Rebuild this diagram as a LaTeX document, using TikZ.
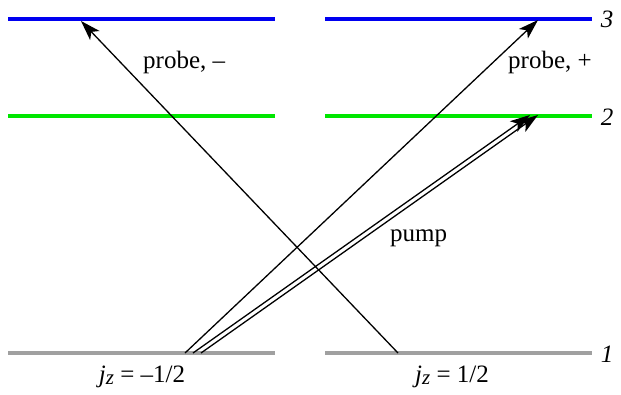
\documentclass[tikz,border=0pt]{standalone}
\usepackage{fontspec}
\setmainfont{Liberation Serif}
\usetikzlibrary{arrows.meta}
\definecolor{lvblue}{RGB}{0,0,240}
\definecolor{lvgreen}{RGB}{0,230,0}
\definecolor{lvgray}{RGB}{160,160,160}
\newcommand{\jzsub}{\textit{j}\raisebox{-0.25ex}{\fontsize{21}{21}\selectfont\textit{z}}}
\tikzset{
  level/.style={line width=3.5pt},
  trans/.style={line width=1.3pt,-{Stealth[length=20pt,width=13pt,inset=5pt]}},
  lab/.style={font=\fontsize{25}{29}\selectfont, inner sep=0pt},
}
\begin{document}
\begin{tikzpicture}[x=1pt,y=-1pt]
\useasboundingbox (0,0) rectangle (621,394);
% levels
\coordinate (L3a) at (8,19); \coordinate (L3b) at (275,19);
\coordinate (R3a) at (325,19); \coordinate (R3b) at (592,19);
\coordinate (L2a) at (8,116); \coordinate (L2b) at (275,116);
\coordinate (R2a) at (325,116); \coordinate (R2b) at (592,116);
\coordinate (L1a) at (8,353); \coordinate (L1b) at (275,353);
\coordinate (R1a) at (325,353); \coordinate (R1b) at (592,353);
\draw[level,lvblue] (L3a) -- (L3b);
\draw[level,lvblue] (R3a) -- (R3b);
\draw[level,lvgreen] (L2a) -- (L2b);
\draw[level,lvgreen] (R2a) -- (R2b);
\draw[level,lvgray] (L1a) -- (L1b);
\draw[level,lvgray] (R1a) -- (R1b);
% level labels
\node[lab,anchor=base] (n3) at (607,27) {\itshape 3};
\node[lab,anchor=base] (n2) at (607,125) {\itshape 2};
\node[lab,anchor=base] (n1) at (607,362) {\itshape 1};
% transitions
\coordinate (pmS) at (398,353); \coordinate (pmE) at (81,21);
\coordinate (ppS) at (185,353); \coordinate (ppE) at (538,20);
\coordinate (pu1S) at (193,353); \coordinate (pu1E) at (530,115);
\coordinate (pu2S) at (201,353); \coordinate (pu2E) at (538,115);
\draw[trans] (pmS) -- (pmE);
\draw[trans] (ppS) -- (ppE);
\draw[trans] (pu1S) -- (pu1E);
\draw[trans] (pu2S) -- (pu2E);
% labels
\node[lab,anchor=base west] (tpm) at (143,68) {probe, –};
\node[lab,anchor=base west] (tpp) at (508,68) {probe, +};
\node[lab,anchor=base west] (tpu) at (390,241) {pump};
\node[lab,anchor=base] (jl) at (142,382) {\jzsub{} = –1/2};
\node[lab,anchor=base] (jr) at (452,382) {\jzsub{} = 1/2};
\end{tikzpicture}
\end{document}
